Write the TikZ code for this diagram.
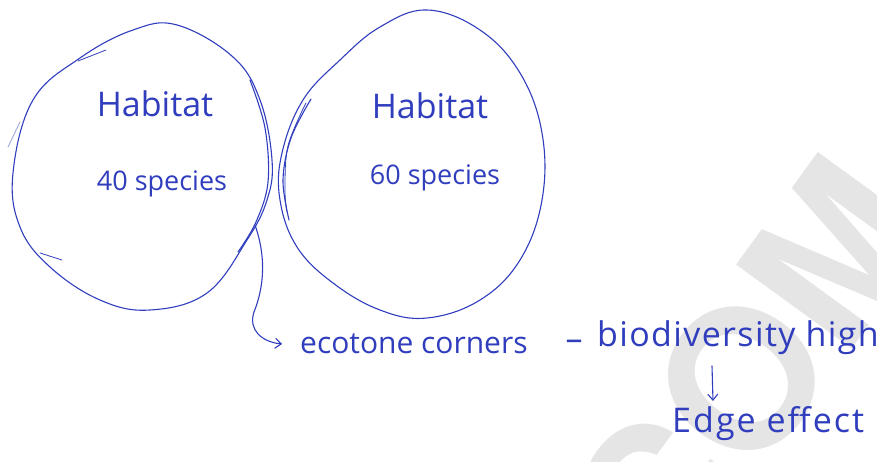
\documentclass[tikz,border=0pt]{standalone}
\usepackage{fontspec}
\setmainfont{Open Sans}
\newfontfamily\markfont{TeX Gyre Heros}
\usetikzlibrary{arrows.meta}
\definecolor{ink}{RGB}{48,62,190}
\definecolor{faintink}{RGB}{150,160,215}
\definecolor{wmark}{RGB}{229,229,229}
\tikzset{
  pen/.style={draw=ink, line width=1.1pt, line cap=round, line join=round},
  faint/.style={draw=faintink, line width=0.8pt, line cap=round},
  hand/.style={text=ink, inner sep=0pt},
  tip/.style={-{Straight Barb[length=6pt,width=10pt]}}
}
\begin{document}
\begin{tikzpicture}[x=1pt,y=-1pt]
\useasboundingbox (0,0) rectangle (877,462);
\fill[white] (0,0) rectangle (877,462);

% watermark in the lower right corner
\node[text=wmark, rotate=54, font=\markfont\bfseries\fontsize{196}{196}\selectfont, inner sep=0pt]
  (wm) at (748,370) {COM};

% left habitat outline
\draw[pen] plot[smooth cycle, tension=0.65] coordinates {
  (177,25) (233,57) (260,100) (272,160) (267,200) (247,240) (207,293)
  (150,310) (100,300) (50,267) (20,227) (13,173) (33,100) (80,58) (133,30)};
% retraced right side of the left habitat
\draw[pen] plot[smooth, tension=0.6] coordinates {
  (250,80) (265,128) (268,182) (256,222) (238,252)};
% small loose strokes
\draw[pen, line width=0.8pt] (78,61) -- (106,50);
\draw[pen, line width=0.8pt] (40,253) -- (62,260);
\draw[faint] (8,147) -- (20,122);

% right habitat outline
\draw[pen] plot[smooth cycle, tension=0.65] coordinates {
  (427,10) (480,30) (520,73) (542,133) (542,200) (520,260) (480,300)
  (427,318) (380,310) (333,283) (297,247) (280,200) (282,153) (303,100)
  (340,60) (380,27)};
% retraced left side of the right habitat
\draw[pen] plot[smooth, tension=0.6] coordinates {
  (311,99) (291,138) (283,180) (289,220)};
\draw[pen, line width=0.8pt] plot[smooth, tension=0.6] coordinates {
  (306,103) (288,146) (285,190) (287,212)};

% texts
\node[hand, font=\fontsize{34}{34}\selectfont] (hab1) at (155,104) {Habitat};
\node[hand, font=\fontsize{27}{27}\selectfont] (sp1)  at (162,184) {40 species};
\node[hand, font=\fontsize{34}{34}\selectfont] (hab2) at (430,106) {Habitat};
\node[hand, font=\fontsize{27}{27}\selectfont] (sp2)  at (435,178) {60 species};

\node[hand, font=\fontsize{30}{30}\selectfont, anchor=west] (eco) at (300,344) {ecotone corners};
\node[hand, font=\fontsize{34}{34}\selectfont] (dash) at (574,345) {–};
\node[hand, font=\fontsize{34}{34}\selectfont\addfontfeature{LetterSpace=4}, anchor=west] (bio) at (597,338) {biodiversity high};
\node[hand, font=\fontsize{34}{34}\selectfont\addfontfeature{LetterSpace=6}, anchor=west] (edge) at (672,424) {Edge effect};

% ecotone pointer from the meeting point of the two habitats
\coordinate (meet) at (255,225);
\draw[pen, tip] (meet) .. controls (268,262) and (262,292) .. (254,312)
  .. controls (248,330) and (262,342) .. ([xshift=-18pt]eco.west);

% arrow to the edge effect
\coordinate (down1) at (712,366);
\coordinate (down2) at (713,401);
\draw[pen, tip] (down1) -- (down2);
\end{tikzpicture}
\end{document}
